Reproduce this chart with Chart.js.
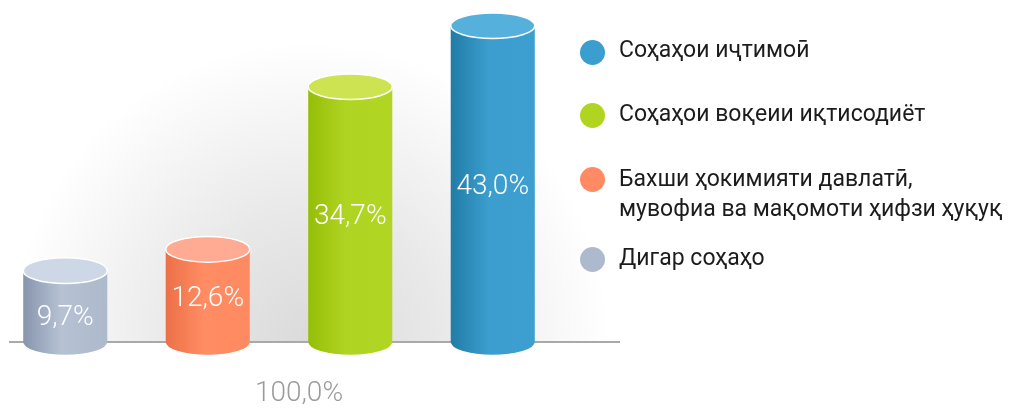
<!DOCTYPE html>
<html>
<head>
<meta charset="utf-8">
<script src="https://cdn.jsdelivr.net/npm/chart.js@4/dist/chart.umd.min.js"></script>
<style>
  html, body { margin: 0; padding: 0; background: #fff; }
  body { width: 1010px; height: 408px; position: relative; overflow: hidden; font-family: Roboto, "Noto Sans", sans-serif; }
  #wrap { position: absolute; left: -7px; top: 0; width: 1017px; height: 408px; }
  .dot { position: absolute; width: 25px; height: 25px; border-radius: 50%; }
  .item { position: absolute; left: 619px; font-size: 23px; line-height: 30px; color: #1c1c1c; white-space: nowrap; }
  #total { position: absolute; left: 199px; top: 377px; width: 200px; text-align: center; font-size: 28px; line-height: 30px; color: #9b9b9b; font-weight: 300; }
</style>
</head>
<body>
<div id="wrap"><canvas id="chart" width="1017" height="408"></canvas></div>
<div id="legend"></div>
<div id="total"></div>
<script>
// данные
const categories = [
  "Дигар соҳаҳо",
  "Бахши ҳокимияти давлатӣ,\nмувофиа ва мақомоти ҳифзи ҳуқуқ",
  "Соҳаҳои воқеии иқтисодиёт",
  "Соҳаҳои иҷтимоӣ",
];
const values = [9.7, 12.6, 34.7, 43.0];
const valueLabels = ["9,7%", "12,6%", "34,7%", "43,0%"];
const totalLabel = "100,0%";

// цвета: тёмный край, светлая середина, правый край, крышка
const darkColors = ["#8795ad", "#ec7047", "#95be08", "#217ca6"];
const midColors = ["#b6c1d3", "#ff8c63", "#b0d422", "#3b9ece"];
const sideColors = ["#adbacc", "#ff8a62", "#b1d523", "#3c9fcf"];
const topColors = ["#cdd7e6", "#ffab93", "#cde352", "#55b1db"];
const legendColors = ["#adbacd", "#ff8a64", "#b1d421", "#3a9ecf"];

// легенда (в обратном порядке)
const legendTops = [243, 164, 98.6, 35];
const dotCenters = [259, 179, 115, 52];
const legend = document.getElementById("legend");
for (let k = categories.length - 1; k >= 0; k--) {
  const dot = document.createElement("div");
  dot.className = "dot";
  dot.style.left = 592 - 12.5 + "px";
  dot.style.top = dotCenters[k] - 12.5 + "px";
  dot.style.background = legendColors[k];
  legend.appendChild(dot);
  const item = document.createElement("div");
  item.className = "item";
  item.style.top = legendTops[k] + "px";
  item.innerHTML = categories[k].split("\n").join("<br>");
  legend.appendChild(item);
}
document.getElementById("total").textContent = totalLabel;

const cylinders = {
  id: "cylinders",
  beforeDraw(chart) {
    const ctx = chart.ctx;
    const base = chart.scales.y.getPixelForValue(0);
    ctx.save();
    const g = ctx.createRadialGradient(317, base, 0, 317, base, 300);
    g.addColorStop(0, "#dadada");
    g.addColorStop(0.45, "#e9e9e9");
    g.addColorStop(1, "rgba(255,255,255,1)");
    ctx.fillStyle = g;
    ctx.fillRect(0, 0, 640, base);
    ctx.restore();
  },
  beforeDatasetsDraw(chart) {
    const ctx = chart.ctx;
    const base = chart.scales.y.getPixelForValue(0);
    ctx.save();
    ctx.strokeStyle = "#a9a9a9";
    ctx.lineWidth = 2;
    ctx.beginPath();
    ctx.moveTo(16, base);
    ctx.lineTo(627, base);
    ctx.stroke();
    ctx.restore();
  },
  afterDatasetsDraw(chart) {
    const ctx = chart.ctx;
    const meta = chart.getDatasetMeta(0);
    const ry = 12.8;
    meta.data.forEach((el, i) => {
      const x = el.x;
      const top = el.y;
      const base = el.base;
      const rx = el.width / 2;
      const left = x - rx;
      const right = x + rx;
      ctx.save();
      const g = ctx.createLinearGradient(left, 0, right, 0);
      g.addColorStop(0, darkColors[i]);
      g.addColorStop(0.45, midColors[i]);
      g.addColorStop(1, sideColors[i]);
      ctx.fillStyle = g;
      ctx.beginPath();
      ctx.moveTo(left, top);
      ctx.lineTo(left, base);
      ctx.ellipse(x, base, rx, ry, 0, Math.PI, 0, true);
      ctx.lineTo(right, top);
      ctx.closePath();
      ctx.fill();

      ctx.beginPath();
      ctx.ellipse(x, top, rx, ry, 0, 0, Math.PI * 2);
      ctx.fillStyle = topColors[i];
      ctx.fill();
      ctx.strokeStyle = "#ffffff";
      ctx.lineWidth = 1.5;
      ctx.stroke();

      // подпись
      const cy = Math.max((top + base) / 2, top + 44);
      ctx.fillStyle = "#ffffff";
      ctx.font = "300 28px Roboto";
      ctx.textAlign = "center";
      ctx.textBaseline = "alphabetic";
      ctx.fillText(valueLabels[i], x, cy + 10);
      ctx.restore();
    });
  },
};

new Chart(document.getElementById("chart"), {
  type: "bar",
  data: {
    labels: categories,
    datasets: [
      {
        data: values,
        backgroundColor: "rgba(0,0,0,0)",
        borderWidth: 0,
        categoryPercentage: 1,
        barPercentage: 0.59,
      },
    ],
  },
  options: {
    responsive: false,
    animation: false,
    devicePixelRatio: 1,
    layout: { padding: { left: 1, right: 446, top: 0, bottom: 66 } },
    scales: {
      x: { display: false },
      y: { display: false, min: 0, max: 46.5 },
    },
    plugins: {
      legend: { display: false },
      tooltip: { enabled: false },
    },
  },
  plugins: [cylinders],
});
</script>
</body>
</html>
